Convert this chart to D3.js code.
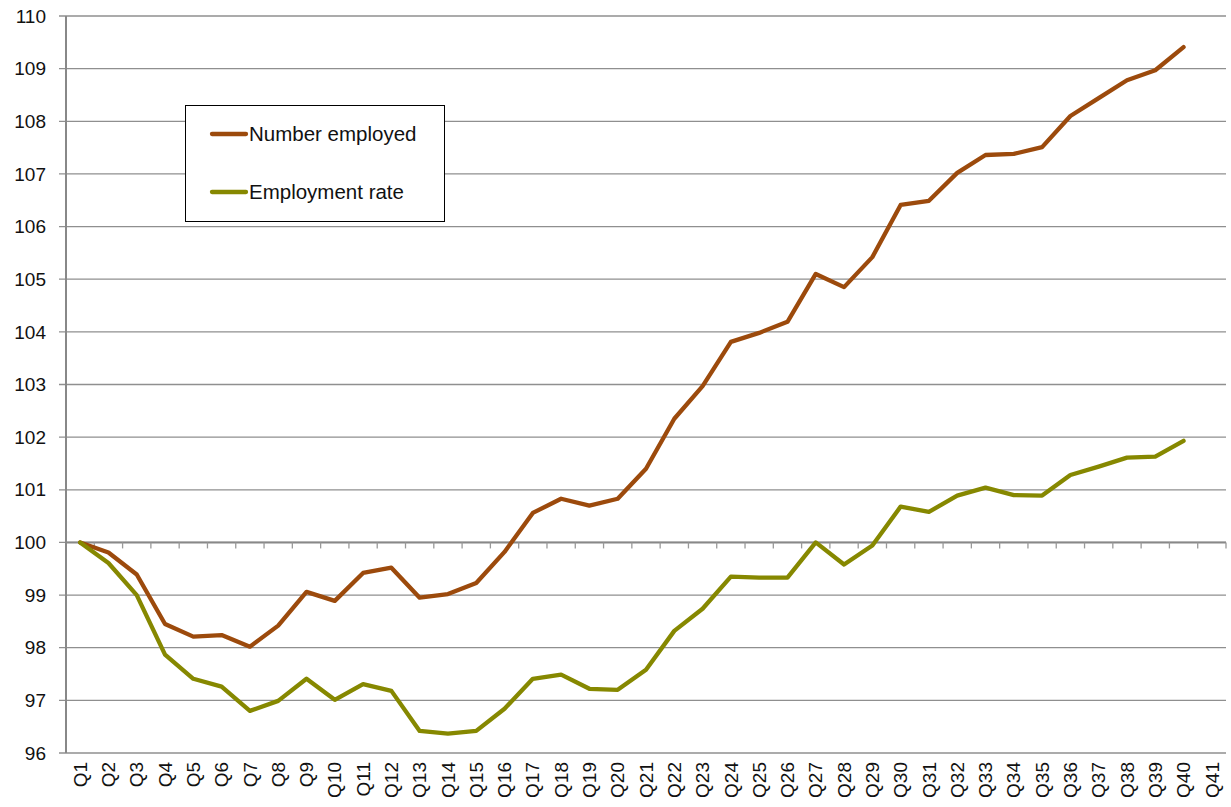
<!DOCTYPE html>
<html><head><meta charset="utf-8">
<script src="https://cdn.jsdelivr.net/npm/d3@7"></script>
<style>
html,body{margin:0;padding:0;background:#fff;}
text{font-family:"Liberation Sans",Arial,Helvetica,sans-serif;fill:#111;}
</style></head>
<body><svg id="chart" width="1231" height="807"></svg>
<script>
const categories = d3.range(1, 42).map(i => "Q" + i);
const seriesNames = ["Number employed", "Employment rate"];
const numberEmployed = [100,99.81,99.39,98.45,98.21,98.24,98.02,98.42,99.06,98.89,
  99.42,99.52,98.95,99.02,99.23,99.82,100.56,100.83,100.70,100.83,
  101.40,102.35,102.97,103.81,103.98,104.19,105.10,104.85,105.42,106.41,
  106.49,107.02,107.36,107.38,107.51,108.10,108.44,108.78,108.97,109.41];
const employmentRate = [100,99.61,99.00,97.87,97.41,97.26,96.80,96.99,97.41,97.01,
  97.31,97.18,96.42,96.37,96.42,96.84,97.41,97.49,97.22,97.20,
  97.58,98.32,98.74,99.35,99.33,99.33,100.00,99.58,99.94,100.68,
  100.58,100.89,101.04,100.90,100.89,101.28,101.44,101.61,101.63,101.93];
const yTicks = d3.range(96, 111);
const colors = ["#9c4a0c", "#868800"];

const svg = d3.select("#chart");
const L = 66, R = 1226, T = 16, B = 753;
const x = d3.scaleBand().domain(categories).range([L, R]);
const y = d3.scaleLinear().domain([96, 110]).range([B, T]);
const cx = c => x(c) + x.bandwidth() / 2;

// gridlines
svg.append("g").selectAll("line").data(yTicks).join("line")
  .attr("x1", L - 7).attr("x2", R)
  .attr("y1", d => y(d)).attr("y2", d => y(d))
  .attr("stroke", "#8f8f8f").attr("stroke-width", 1.3);

// y axis labels
svg.append("g").selectAll("text").data(yTicks).join("text")
  .attr("x", 46).attr("y", d => y(d)).attr("dy", "0.35em")
  .attr("text-anchor", "end").attr("font-size", 19).text(d => d);

// y axis line
svg.append("line").attr("x1", L).attr("x2", L).attr("y1", T).attr("y2", B)
  .attr("stroke", "#888").attr("stroke-width", 2);

// category axis at 100
const y100 = y(100);
svg.append("line").attr("x1", L).attr("x2", R).attr("y1", y100).attr("y2", y100)
  .attr("stroke", "#888").attr("stroke-width", 2);
const bounds = categories.map(c => x(c)).slice(1).concat([R]);
svg.append("g").selectAll("line").data(bounds).join("line")
  .attr("x1", d => d).attr("x2", d => d)
  .attr("y1", y100).attr("y2", y100 + 6)
  .attr("stroke", "#999").attr("stroke-width", 1.3);

// x labels
svg.append("g").selectAll("text").data(categories).join("text")
  .attr("transform", c => `translate(${cx(c)},762) rotate(-90)`)
  .attr("text-anchor", "end").attr("dy", "0.35em")
  .attr("font-size", 19).text(c => c);

// lines
const line = d3.line().x((d, i) => cx(categories[i])).y(d => y(d));
[numberEmployed, employmentRate].forEach((s, k) => {
  svg.append("path").datum(s).attr("d", line)
    .attr("fill", "none").attr("stroke", colors[k]).attr("stroke-width", 4.3)
    .attr("stroke-linejoin", "round").attr("stroke-linecap", "round");
});

// legend
const lg = svg.append("g");
lg.append("rect").attr("x", 185.5).attr("y", 105.5).attr("width", 259).attr("height", 116)
  .attr("fill", "#fff").attr("stroke", "#000").attr("stroke-width", 1);
seriesNames.forEach((n, k) => {
  const ly = 134 + k * 58;
  lg.append("line").attr("x1", 212).attr("x2", 246).attr("y1", ly).attr("y2", ly)
    .attr("stroke", colors[k]).attr("stroke-width", 4.3).attr("stroke-linecap", "round");
  lg.append("text").attr("x", 249).attr("y", ly).attr("dy", "0.36em")
    .attr("font-size", 20.5).text(n);
});
</script></body></html>
